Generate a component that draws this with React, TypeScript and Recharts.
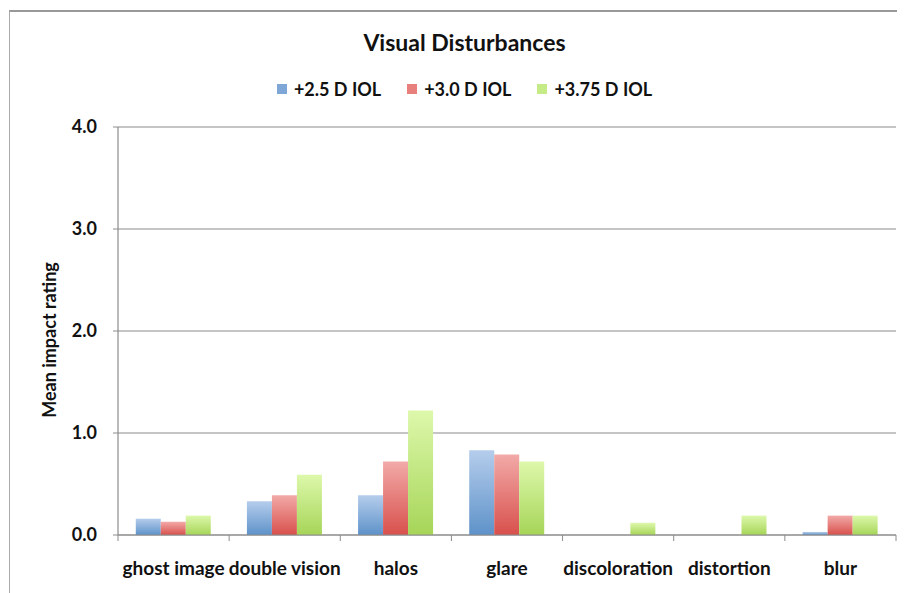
import { BarChart, Bar, XAxis, YAxis, CartesianGrid } from "recharts";

const CATEGORIES = [
  "ghost image",
  "double vision",
  "halos",
  "glare",
  "discoloration",
  "distortion",
  "blur",
];
const IOL_25 = [0.16, 0.33, 0.39, 0.83, 0, 0, 0.03];
const IOL_30 = [0.13, 0.39, 0.72, 0.79, 0, 0, 0.19];
const IOL_375 = [0.19, 0.59, 1.22, 0.72, 0.12, 0.19, 0.19];
const SERIES_NAMES = ["+2.5 D IOL", "+3.0 D IOL", "+3.75 D IOL"];
const Y_TICKS = [0, 1, 2, 3, 4];

const CHART_W = 897;
const CHART_H = 585;
const MARGIN = { top: 119, right: 9, left: 0, bottom: 0 };
const Y_AXIS_W = 110;
const X_AXIS_H = 58;
const BAND = (CHART_W - Y_AXIS_W - MARGIN.right) / CATEGORIES.length;

const FONT = "Lato, 'Open Sans', sans-serif";
const AXIS_GRAY = "#8c8c8c";

// top/bottom colours of each bar gradient
const GRADS = [
  { id: "gBlue", top: "#b5cdec", bottom: "#5e92c9", swatch: "#7ea7d8" },
  { id: "gRed", top: "#f2aaa8", bottom: "#d8504c", swatch: "#e77f7c" },
  { id: "gGreen", top: "#ddf8ab", bottom: "#a6d558", swatch: "#c4eb85" },
];

const data = CATEGORIES.map((name, i) => ({
  name,
  a: IOL_25[i],
  b: IOL_30[i],
  c: IOL_375[i],
}));

function XTick(props: any) {
  const { x, y, payload, index } = props;
  const last = index === CATEGORIES.length - 1;
  return (
    <g>
      <line x1={x - BAND / 2} x2={x - BAND / 2} y1={y} y2={y + 6} stroke={AXIS_GRAY} />
      {last && (
        <line x1={x + BAND / 2} x2={x + BAND / 2} y1={y} y2={y + 6} stroke={AXIS_GRAY} />
      )}
      <text
        x={x}
        y={y + 40}
        textAnchor="middle"
        fontFamily={FONT}
        fontWeight={700}
        fontSize={19}
        fill="#111"
      >
        {payload.value}
      </text>
    </g>
  );
}

export default function App() {
  return (
    <div
      style={{
        position: "relative",
        width: CHART_W,
        height: CHART_H,
        overflow: "hidden",
        fontFamily: FONT,
      }}
    >
      <div
        style={{
          position: "absolute",
          left: 1,
          top: 2,
          width: 920,
          height: 620,
          borderLeft: "1.5px solid #aaa",
          borderTop: "2px solid #999",
        }}
      />
      <div
        style={{
          position: "absolute",
          left: 8,
          top: 20,
          width: CHART_W,
          textAlign: "center",
          fontSize: 23,
          fontWeight: 700,
          color: "#111",
        }}
      >
        Visual Disturbances
      </div>
      <div
        style={{
          position: "absolute",
          left: 8,
          top: 70,
          width: CHART_W,
          display: "flex",
          justifyContent: "center",
          gap: 26,
          fontSize: 18,
          fontWeight: 700,
          color: "#111",
        }}
      >
        {SERIES_NAMES.map((s, i) => (
          <span key={s} style={{ display: "flex", alignItems: "center" }}>
            <span
              style={{
                display: "inline-block",
                width: 10,
                height: 10,
                background: GRADS[i].swatch,
                marginRight: 7,
              }}
            />
            {s}
          </span>
        ))}
      </div>
      <div style={{ position: "absolute", left: 0, top: 0 }}>
        <BarChart
          width={CHART_W}
          height={CHART_H}
          data={data}
          margin={MARGIN}
          barCategoryGap="16%"
          barGap={0}
        >
          <defs>
            {GRADS.map((g) => (
              <linearGradient key={g.id} id={g.id} x1="0" y1="0" x2="0" y2="1">
                <stop offset="0%" stopColor={g.top} />
                <stop offset="100%" stopColor={g.bottom} />
              </linearGradient>
            ))}
          </defs>
          <CartesianGrid vertical={false} stroke={AXIS_GRAY} strokeWidth={1.2} />
          <XAxis
            dataKey="name"
            height={X_AXIS_H}
            tickLine={false}
            tickSize={0}
            tickMargin={0}
            axisLine={{ stroke: AXIS_GRAY, strokeWidth: 1.2 }}
            tick={<XTick />}
            interval={0}
          />
          <YAxis
            width={Y_AXIS_W}
            domain={[0, 4]}
            ticks={Y_TICKS}
            tickFormatter={(v: number) => v.toFixed(1)}
            tickSize={5}
            tickMargin={16}
            tickLine={{ stroke: AXIS_GRAY }}
            axisLine={{ stroke: AXIS_GRAY, strokeWidth: 1.2 }}
            tick={{ fontFamily: FONT, fontWeight: 700, fontSize: 18, fill: "#111" }}
            label={{
              content: () => (
                <text
                  x={41}
                  y={332}
                  transform="rotate(-90 41 332)"
                  textAnchor="middle"
                  dominantBaseline="central"
                  fontFamily={FONT}
                  fontWeight={700}
                  fontSize={18}
                  fill="#111"
                >
                  Mean impact rating
                </text>
              ),
            }}
          />
          <Bar dataKey="a" name={SERIES_NAMES[0]} fill="url(#gBlue)" isAnimationActive={false} />
          <Bar dataKey="b" name={SERIES_NAMES[1]} fill="url(#gRed)" isAnimationActive={false} />
          <Bar dataKey="c" name={SERIES_NAMES[2]} fill="url(#gGreen)" isAnimationActive={false} />
        </BarChart>
      </div>
    </div>
  );
}
